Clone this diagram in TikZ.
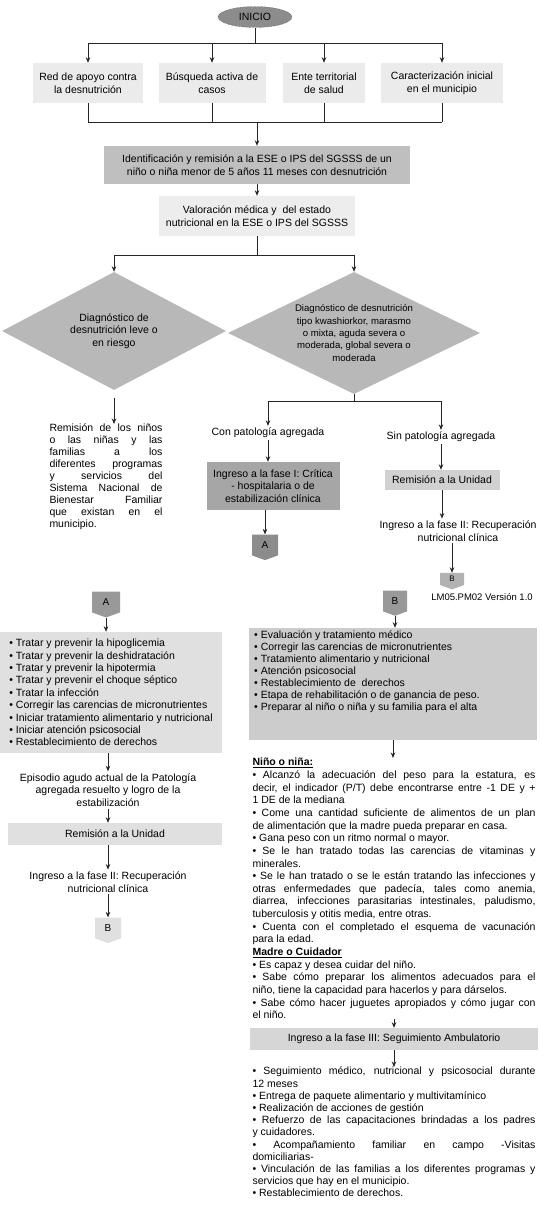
\documentclass[tikz,border=0pt]{standalone}
\usepackage{fontspec}
\setmainfont{Liberation Sans}
\usetikzlibrary{shapes.geometric,shapes.symbols,arrows.meta}
\tolerance=10000
\hyphenpenalty=10000
\hbadness=10000
\begin{document}
\begin{tikzpicture}[x=1pt,y=-1pt,
  every node/.style={font=\fontsize{10.5}{12.6}\selectfont, inner sep=2pt, text=black},
  ln/.style={line width=0.8pt, draw=black!85},
  arr/.style={ln, -{Stealth[length=5.5pt,width=4.5pt]}},
  box/.style={align=center, inner sep=2pt},
  start/.style={ellipse, fill=black!45, draw=black!75, densely dotted, minimum width=74pt, minimum height=21pt, inner sep=0pt},
  topbox/.style={box, fill=black!8, minimum height=40pt},
  dia/.style={diamond, aspect=2, inner sep=0pt, align=center, fill=black!28},
  offpage/.style={signal, signal to=south, signal from=nowhere, signal pointer angle=140, inner sep=0pt, font=\fontsize{10}{11}\selectfont},
  para/.style={text width=283pt, align=justify, inner sep=0pt, font=\fontsize{10.5}{12.65}\selectfont},
]
\fill[white] (0,0) rectangle (539,1206);
\path[use as bounding box] (0,0) rectangle (539,1206);

% top
\node[start] (ini) at (255,17) {INICIO};
\node[topbox, minimum width=110pt] (t1) at (88,83) {Red de apoyo contra\\la desnutrición};
\node[topbox, minimum width=107pt] (t2) at (212,83) {Búsqueda activa de\\casos};
\node[topbox, minimum width=82pt] (t3) at (324,83) {Ente territorial\\de salud};
\node[topbox, minimum width=122pt] (t4) at (442,83) {Caracterización inicial\\en el municipio};

\node[box, fill=black!25, minimum width=306pt, minimum height=38pt] (id) at (257,165) {Identificación y remisión a la ESE o IPS del SGSSS de un\\niño o niña menor de 5 años 11 meses con desnutrición};
\node[box, fill=black!7, minimum width=196pt, minimum height=40pt] (val) at (257,216) {Valoración médica y\ \ del estado\\nutricional en la ESE o IPS del SGSSS};

\node[dia, minimum width=224pt, minimum height=118pt] (d1) at (114,331) {Diagnóstico de\\desnutrición leve o\\en riesgo};
\node[dia, minimum width=252pt, minimum height=122pt, font=\fontsize{9.6}{12.3}\selectfont] (d2) at (354,333) {Diagnóstico de desnutrición\\tipo kwashiorkor, marasmo\\o mixta, aguda severa o\\moderada, global severa o\\moderada};

\node[anchor=north, text width=113pt, align=justify, inner sep=0pt, font=\fontsize{10.5}{11.9}\selectfont] (rem) at (106,424) {Remisión de los niños\linebreak o las niñas y las\linebreak familias a los\linebreak diferentes programas\linebreak y servicios del\linebreak Sistema Nacional de\linebreak Bienestar Familiar\linebreak que existan en el\linebreak municipio.};

\node (con) at (268,433) {Con patología agregada};
\node (sin) at (441,437) {Sin patología agregada};
\node[box, fill=black!35, minimum width=133pt, minimum height=48pt] (f1) at (273,486) {Ingreso a la fase I: Crítica\\- hospitalaria o de\\estabilización clínica};
\node[offpage, fill=black!45, minimum width=26pt, minimum height=22pt] (ac1) at (265,545) {A};
\node[box, fill=black!18, minimum width=115pt, minimum height=20pt] (rem1) at (442,480) {Remisión a la Unidad};
\node[box] (f2) at (458,531) {Ingreso a la fase II: Recuperación\\nutricional clínica};
\node[offpage, fill=black!30, minimum width=24pt, minimum height=13pt, font=\fontsize{8}{9}\selectfont] (bc1) at (452,579) {B};
\node[font=\fontsize{9.5}{11}\selectfont] (ver) at (482,597) {LM05.PM02 Versión 1.0};

% left column
\node[offpage, fill=black!40, minimum width=28pt, minimum height=22pt] (ac2) at (106,602) {A};
\node[box, align=left, fill=black!12, minimum width=222pt, minimum height=121pt, font=\fontsize{10.5}{12.4}\selectfont] (la) at (111,692.5) {• Tratar y prevenir la hipoglicemia\\• Tratar y prevenir la deshidratación\\• Tratar y prevenir la hipotermia\\• Tratar y prevenir el choque séptico\\• Tratar la infección\\• Corregir las carencias de micronutrientes\\• Iniciar tratamiento alimentario y nutricional\\• Iniciar atención psicosocial\\• Restablecimiento de derechos};
\node[box] (ep) at (108,790) {Episodio agudo actual de la Patología\\agregada resuelto y logro de la\\estabilización};
\node[box, fill=black!12, minimum width=214pt, minimum height=22pt] (rem3) at (115,834) {Remisión a la Unidad};
\node[box] (f2b) at (108,882) {Ingreso a la fase II: Recuperación\\nutricional clínica};
\node[offpage, fill=black!12, minimum width=26pt, minimum height=22pt] (bc3) at (108,928) {B};

% right column
\node[offpage, fill=black!40, minimum width=24pt, minimum height=22pt] (bc2) at (395,601) {B};
\node[fill=black!20, minimum width=288pt, minimum height=112pt, inner sep=0pt] (lb) at (393,684) {};
\node[anchor=north west, align=left, inner sep=0pt, font=\fontsize{10.5}{12}\selectfont] (lbt) at (254,631) {• Evaluación y tratamiento médico\\• Corregir las carencias de micronutrientes\\• Tratamiento alimentario y nutricional\\• Atención psicosocial\\• Restablecimiento de\ \ derechos\\• Etapa de rehabilitación o de ganancia de peso.\\• Preparar al niño o niña y su familia para el alta};
\node[para, anchor=north] (nino) at (394,758) {\underline{\textbf{Niño o niña:}}\par
• Alcanzó la adecuación del peso para la estatura, es\linebreak decir, el indicador (P/T) debe encontrarse entre -1 DE y +\linebreak 1 DE de la mediana\par
• Come una cantidad suficiente de alimentos de un plan\linebreak de alimentación que la madre pueda preparar en casa.\par
• Gana peso con un ritmo normal o mayor.\par
• Se le han tratado todas las carencias de vitaminas y\linebreak minerales.\par
• Se le han tratado o se le están tratando las infecciones y\linebreak otras enfermedades que padecía, tales como anemia,\linebreak diarrea, infecciones parasitarias intestinales, paludismo,\linebreak tuberculosis y otitis media, entre otras.\par
• Cuenta con el completado el esquema de vacunación\linebreak para la edad.\par
\underline{\textbf{Madre o Cuidador}}\par
• Es capaz y desea cuidar del niño.\par
• Sabe cómo preparar los alimentos adecuados para el\linebreak niño, tiene la capacidad para hacerlos y para dárselos.\par
• Sabe cómo hacer juguetes apropiados y cómo jugar con\linebreak el niño.};
\node[box, fill=black!16, minimum width=288pt, minimum height=22pt] (f3) at (394,1039) {Ingreso a la fase III: Seguimiento Ambulatorio};
\node[para, anchor=north, font=\fontsize{10.5}{12.2}\selectfont] (seg) at (394,1067) {• Seguimiento médico, nutricional y psicosocial durante\linebreak 12 meses\par
• Entrega de paquete alimentario y multivitamínico\par
• Realización de acciones de gestión\par
• Refuerzo de las capacitaciones brindadas a los padres\linebreak y cuidadores.\par
• Acompañamiento familiar en campo -Visitas\linebreak domiciliarias-\par
• Vinculación de las familias a los diferentes programas y\linebreak servicios que hay en el municipio.\par
• Restablecimiento de derechos.};

% connectors
\coordinate (b1) at (255,43);
\draw[ln] (ini.south) -- (b1);
\draw[ln] (t1.north |- b1) -- (t4.north |- b1);
\foreach \n in {t1,t2,t3,t4} \draw[arr] (\n.north |- b1) -- (\n.north);
\coordinate (b2) at (257,122);
\foreach \n in {t1,t2,t3,t4} \draw[ln] (\n.south) -- (\n.south |- b2);
\draw[ln] (t1.south |- b2) -- (t4.south |- b2);
\draw[arr] (b2) -- (b2 |- id.north);
\draw[arr] (id.south) -- (id.south |- val.north);
\coordinate (b3) at (257,255);
\draw[ln] (val.south) -- (val.south |- b3);
\draw[ln] (d1.north |- b3) -- (d2.north |- b3);
\draw[arr] (d1.north |- b3) -- (d1.north);
\draw[arr] (d2.north |- b3) -- (d2.north);
\draw[arr, shorten <=8pt] (d1.south) -- (d1.south |- rem.north);
\coordinate (b4) at (354,401);
\draw[ln] (d2.south) -- (b4);
\draw[ln] (con.north |- b4) -- (sin.north |- b4);
\draw[arr] (con.north |- b4) -- (con.north);
\draw[arr] (sin.north |- b4) -- (sin.north);
\draw[arr] (con.south) -- (con.south |- f1.north);
\draw[arr] (ac1 |- f1.south) -- (ac1.north);
\draw[arr] (sin.south) -- (sin.south |- rem1.north);
\draw[arr] (rem1.south) -- (rem1.south |- f2.north);
\draw[arr] (bc1 |- f2.south) -- (bc1.north);
\draw[arr] (ac2.south) -- (ac2.south |- la.north);
\draw[arr] (ep.north |- la.south) -- (ep.north);
\draw[arr] (ep.south) -- (ep.south |- rem3.north);
\draw[arr] (f2b.north |- rem3.south) -- (f2b.north);
\draw[arr] (f2b.south) -- (bc3.north);
\draw[arr] (bc2.south) -- (bc2.south |- lb.north);
\draw[arr] (lb.south) -- (lb.south |- nino.north);
\draw[arr] (nino.south) -- (nino.south |- f3.north);
\draw[arr] (f3.south) -- (f3.south |- seg.north);
\end{tikzpicture}
\end{document}
